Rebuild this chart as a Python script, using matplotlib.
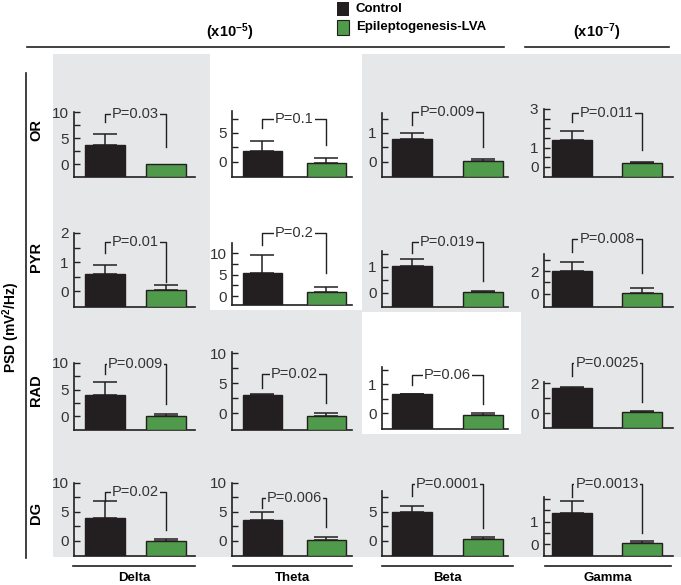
import numpy as np
import matplotlib
matplotlib.use("Agg")
import matplotlib.pyplot as plt
from matplotlib.patches import Rectangle
from matplotlib.lines import Line2D

plt.rcParams['font.family'] = ['Liberation Sans', 'DejaVu Sans']
plt.rcParams['mathtext.default'] = 'regular'

# データ (行 = layer, 列 = band)
bands = ['Delta', 'Theta', 'Beta', 'Gamma']
layers = ['OR', 'PYR', 'RAD', 'DG']
groups = ['Control', 'Epileptogenesis-LVA']

control = [[3.65, 1.9, 0.8, 1.38],
           [0.59, 5.4, 1.04, 2.0],
           [3.95, 3.0, 0.65, 1.7],
           [3.9, 3.6, 5.0, 1.37]]
control_sem = [[2.15, 1.7, 0.2, 0.47],
               [0.31, 4.2, 0.26, 0.8],
               [2.45, 0.2, 0.02, 0.03],
               [3.0, 1.4, 1.0, 0.53]]
lva = [[0.0, -0.2, 0.03, 0.2],
       [0.03, 0.9, 0.04, 0.1],
       [0.1, -0.4, -0.06, 0.05],
       [0.0, 0.2, 0.3, 0.05]]
lva_sem = [[0.0, 0.9, 0.07, 0.07],
           [0.17, 1.2, 0.04, 0.45],
           [0.3, 0.4, 0.08, 0.1],
           [0.3, 0.5, 0.4, 0.07]]
p_values = [['0.03', '0.1', '0.009', '0.011'],
            ['0.01', '0.2', '0.019', '0.008'],
            ['0.009', '0.02', '0.06', '0.0025'],
            ['0.02', '0.006', '0.0001', '0.0013']]
scales = ['(x10$^{-5}$)', '(x10$^{-7}$)']

# 軸の設定
ylims = [[(-2.5, 10), (-2.6, 8.8), (-0.52, 1.69), (-0.52, 3.0)],
         [(-0.55, 2), (-2.1, 12.4), (-0.54, 1.6), (-1.15, 3.5)],
         [(-2.6, 10), (-2.8, 10.2), (-0.55, 1.6), (-1.0, 2.1)],
         [(-2.6, 10), (-2.6, 10), (-2.6, 8.6), (-0.53, 2.1)]]
major_ticks = [[[0, 5, 10], [0, 5], [0, 1], [0, 1, 3]],
               [[0, 1, 2], [0, 5, 10], [0, 1], [0, 2]],
               [[0, 5, 10], [0, 5, 10], [0, 1], [0, 2]],
               [[0, 5, 10], [0, 5, 10], [0, 5], [0, 1]]]
minor_ticks = [[[2.5, 7.5], [2.5, 7.5], [0.5, 1.5], [0.5, 1.5, 2, 2.5]],
               [[0.5, 1.5], [2.5, 7.5], [0.5, 1.5], [1, 3]],
               [[2.5, 7.5], [2.5, 7.5], [0.5, 1.5], [1]],
               [[2.5, 7.5], [2.5, 7.5], [2.5, 7.5], [0.5, 1.5, 2]]]
# bracket: left leg bottom, top, right leg bottom
brackets = [[(8.1, 9.6, 3.3), (5.9, 7.4, 2.9), (1.28, 1.72, 0.52), (2.33, 2.8, 0.88)],
            [(1.31, 1.69, 0.31), (12.0, 14.8, 5.4), (1.54, 1.96, 0.46), (3.7, 4.8, 1.86)],
            [(7.9, 9.8, 2.3), (4.2, 6.5, 1.7), (0.97, 1.31, 0.31), (2.5, 3.4, 0.73)],
            [(6.9, 8.4, 1.9), (5.7, 7.4, 2.4), (7.8, 9.8, 2.2), (2.1, 2.7, 0.48)]]

# レイアウト (ピクセル)
W, H = 681, 585
col_x = [(74, 195), (232, 352), (382, 508), (544, 673)]
col_xlim = [(-0.508, 1.475), (-0.477, 1.40), (-0.42, 1.35), (-0.4, 1.44)]
bar_w = [0.66, 0.62, 0.56, 0.57]
panel_y = [[(112, 177), (111, 177), (113, 177), (109, 177)],
           [(233, 307), (243, 305), (251, 307), (254, 307)],
           [(363, 430), (352, 430), (367, 429), (382, 428)],
           [(483, 556), (483, 556), (491, 556), (497, 556)]]
white_panels = [(0, 1), (1, 1), (2, 2)]

INK = '#231f20'
GREEN = '#4f9a4b'
GRAY = '#e6e7e8'

fig = plt.figure(figsize=(W / 100, H / 100), dpi=100)


def fx(x):
    return x / W


def fy(y):
    return 1 - y / H


def rect(x0, y0, x1, y1, color, z):
    fig.patches.append(Rectangle((fx(x0), fy(y1)), fx(x1) - fx(x0), fy(y0) - fy(y1),
                                 transform=fig.transFigure, fc=color, ec='none', zorder=z))


def hline(x0, x1, y, lw=1.2):
    fig.add_artist(Line2D([fx(x0), fx(x1)], [fy(y), fy(y)], transform=fig.transFigure,
                          color=INK, lw=lw))


# 背景
rect(53, 54, 681, 557, GRAY, -10)
rect(210, 0, 362, 310, 'white', -9)
rect(362, 312, 521, 434, 'white', -9)

for i in range(4):
    for j in range(4):
        l, r = col_x[j]
        t, b = panel_y[i][j]
        ax = fig.add_axes([fx(l), fy(b), fx(r) - fx(l), fy(t) - fy(b)])
        ax.set_facecolor('none')
        ymin, ymax = ylims[i][j]
        means = np.array([control[i][j], lva[i][j]])
        sems = [control_sem[i][j], lva_sem[i][j]]
        ax.bar([0, 1], means - ymin, bottom=ymin, width=bar_w[j],
               color=[INK, GREEN], edgecolor=INK, linewidth=1.0, zorder=3)
        for k in range(2):
            if sems[k] > 0:
                ax.errorbar(k, means[k], yerr=[[0], [sems[k]]], fmt='none',
                            ecolor=INK, elinewidth=1.1, capsize=8.5, capthick=1.1, zorder=2)
        ax.set_xlim(*col_xlim[j])
        ax.set_ylim(ymin, ymax)
        ax.set_yticks(major_ticks[i][j])
        ax.set_yticks(minor_ticks[i][j], minor=True)
        ax.set_xticks([])
        ax.tick_params(axis='y', which='both', direction='in', length=4, width=1,
                       color=INK, labelsize=11, labelcolor='#333333', pad=4)
        for s in ['top', 'right']:
            ax.spines[s].set_visible(False)
        for s in ['left', 'bottom']:
            ax.spines[s].set_color(INK)
            ax.spines[s].set_linewidth(1.2)
        lb, top, rb = brackets[i][j]
        ax.plot([0, 0, 1, 1], [lb, top, top, rb], color=INK, lw=1.0, clip_on=False)
        bg = 'white' if (i, j) in white_panels else GRAY
        ax.text(0.5, top, 'P=' + p_values[i][j], ha='center', va='center',
                fontsize=10.5, color='#333333', clip_on=False,
                bbox=dict(boxstyle='square,pad=0.08', fc=bg, ec='none'))

# 上部
hline(27, 504, 47)
hline(525, 669, 47)
fig.text(fx(230), fy(32), scales[0], ha='center', va='center', fontsize=10.5,
         fontweight='bold')
fig.text(fx(597), fy(32), scales[1], ha='center', va='center', fontsize=10.5,
         fontweight='bold')
rect(337, 2, 349, 16, INK, 5)
rect(337, 20, 349, 35, GREEN, 5)
fig.patches.append(Rectangle((fx(337), fy(35)), fx(349) - fx(337), fy(20) - fy(35),
                             transform=fig.transFigure, fc='none', ec=INK, lw=0.8, zorder=6))
fig.text(fx(356), fy(9), groups[0], ha='left', va='center', fontsize=9.5, fontweight='bold')
fig.text(fx(356), fy(27), groups[1], ha='left', va='center', fontsize=9.5, fontweight='bold')

# 左
fig.add_artist(Line2D([fx(26), fx(26)], [fy(73), fy(558)], transform=fig.transFigure,
                      color=INK, lw=1.2))
fig.text(fx(11), fy(327), 'PSD (mV$^2$/Hz)', rotation=90, ha='center', va='center',
         fontsize=10, fontweight='bold')
for i, y in enumerate([130, 257, 390, 513]):
    fig.text(fx(36), fy(y), layers[i], rotation=90, ha='center', va='center',
             fontsize=10.5, fontweight='bold')

# 下
bottom_lines = [(73, 195), (233, 352), (382, 513), (545, 671)]
for j, (x0, x1) in enumerate(bottom_lines):
    hline(x0, x1, 566)
    fig.text(fx((x0 + x1) / 2), fy(578), bands[j], ha='center', va='center',
             fontsize=9.5, fontweight='bold')

plt.savefig('out.png', dpi=100)
